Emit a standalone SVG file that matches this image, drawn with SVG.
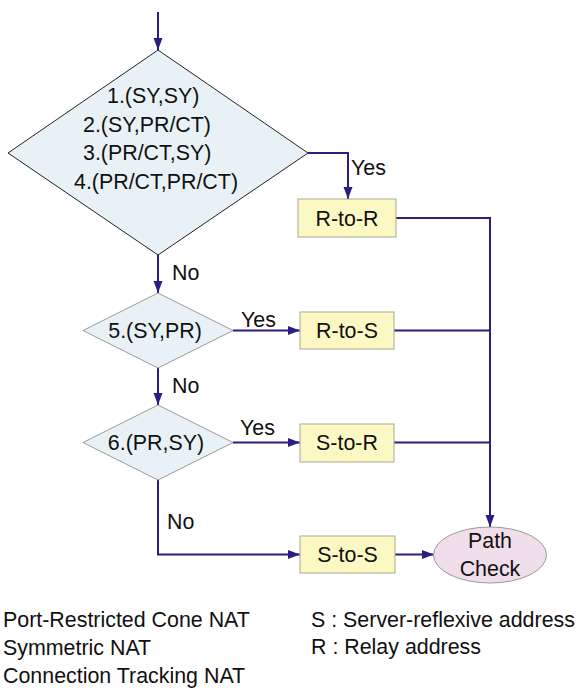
<svg xmlns="http://www.w3.org/2000/svg" width="577" height="688" viewBox="0 0 577 688">
  <defs>
    <marker id="arrow" markerWidth="12" markerHeight="10" refX="12" refY="5" orient="auto" markerUnits="userSpaceOnUse">
      <path d="M0,0.5 L12,5 L0,9.5 Z" fill="#2c1d7e"/>
    </marker>
    <style>
      .txt { font-family: "Liberation Sans", Arial, sans-serif; font-size: 21.4px; fill: #111; }
      .mid { text-anchor: middle; }
      .conn { fill: none; stroke: #2c1d7e; stroke-width: 2; }
      .arr { marker-end: url(#arrow); }
      .dec { fill: #e8f1f5; stroke: #9a9a9a; stroke-width: 1; }
      .dec-main { fill: #e8f1f5; stroke: #222; stroke-width: 1; }
      .proc { fill: #fbf8c4; stroke: #a8a890; stroke-width: 1; }
      .term { fill: #f0dfea; stroke: #9a9a9a; stroke-width: 1; }
    </style>
  </defs>
  <rect width="577" height="688" fill="#fff"/>

  <!-- connectors -->
  <g id="connectors">
    <path class="conn arr" d="M158,12 V50"/>
    <path class="conn arr" d="M308,153 H348 V199"/>
    <path class="conn arr" d="M396,218 H490 V527"/>
    <path class="conn" d="M394,330.5 H490"/>
    <path class="conn" d="M394,442.5 H490"/>
    <path class="conn arr" d="M158,255 V293"/>
    <path class="conn arr" d="M233,330.5 H300"/>
    <path class="conn arr" d="M158,368 V405"/>
    <path class="conn arr" d="M233,442.5 H300"/>
    <path class="conn arr" d="M158,480 V554.5 H300"/>
    <path class="conn arr" d="M395,554.5 H434"/>
    <text class="txt" x="351" y="175">Yes</text>
    <text class="txt" x="172" y="280">No</text>
    <text class="txt" x="241" y="327">Yes</text>
    <text class="txt" x="172" y="393">No</text>
    <text class="txt" x="240" y="435">Yes</text>
    <text class="txt" x="167" y="529">No</text>
  </g>

  <!-- decision: combined NAT pairs -->
  <g id="decision-main">
    <polygon class="dec-main" points="158,50 308,153 158,255 8,153"/>
    <text class="txt" x="107" y="103">1.(SY,SY)</text>
    <text class="txt" x="83" y="131.5">2.(SY,PR/CT)</text>
    <text class="txt" x="83" y="160">3.(PR/CT,SY)</text>
    <text class="txt" x="74" y="188.5">4.(PR/CT,PR/CT)</text>
  </g>

  <g id="decision-5">
    <polygon class="dec" points="158,293 233,330.5 158,368 83,330.5"/>
    <text class="txt mid" x="155" y="338">5.(SY,PR)</text>
  </g>

  <g id="decision-6">
    <polygon class="dec" points="158,405 233,442.5 158,480 83,442.5"/>
    <text class="txt mid" x="156" y="450">6.(PR,SY)</text>
  </g>

  <g id="r-to-r">
    <rect class="proc" x="298" y="199" width="98" height="38"/>
    <text class="txt mid" x="347" y="225.5">R-to-R</text>
  </g>

  <g id="r-to-s">
    <rect class="proc" x="300" y="312" width="94" height="37"/>
    <text class="txt mid" x="347" y="338">R-to-S</text>
  </g>

  <g id="s-to-r">
    <rect class="proc" x="300" y="424" width="94" height="38"/>
    <text class="txt mid" x="347" y="450">S-to-R</text>
  </g>

  <g id="s-to-s">
    <rect class="proc" x="300" y="536" width="95" height="37"/>
    <text class="txt mid" x="347.5" y="562">S-to-S</text>
  </g>

  <g id="path-check">
    <ellipse class="term" cx="490" cy="555" rx="56.5" ry="28"/>
    <text class="txt mid" x="490" y="548">Path</text>
    <text class="txt mid" x="490" y="576">Check</text>
  </g>

  <!-- legend -->
  <g id="legend">
    <text class="txt" x="3" y="627">Port-Restricted Cone NAT</text>
    <text class="txt" x="3" y="655">Symmetric NAT</text>
    <text class="txt" x="3" y="683">Connection Tracking NAT</text>
    <text class="txt" x="311" y="627">S : Server-reflexive address</text>
    <text class="txt" x="311" y="654">R : Relay address</text>
  </g>
</svg>
